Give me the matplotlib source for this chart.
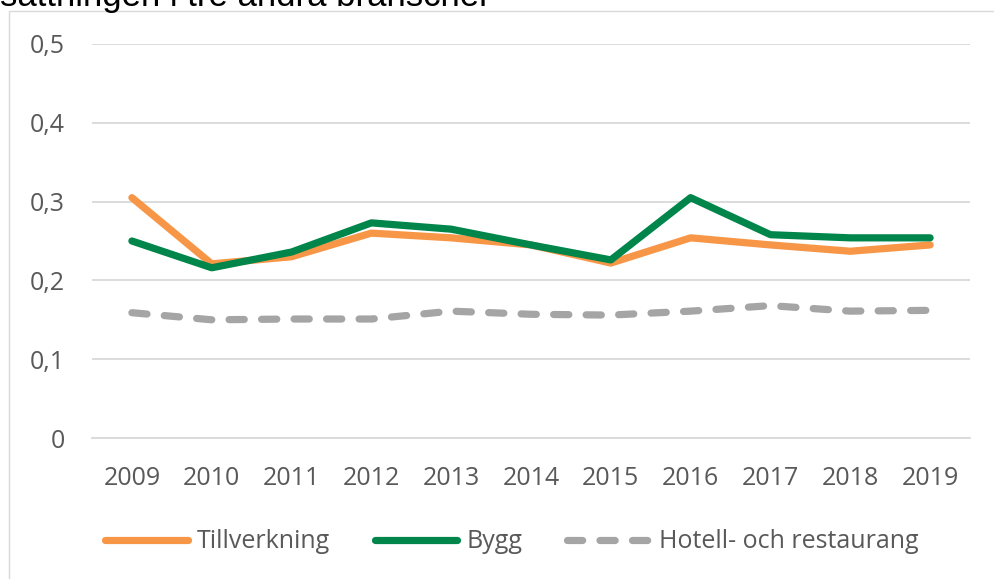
import matplotlib
matplotlib.use("Agg")
import matplotlib.pyplot as plt
from matplotlib.patches import Rectangle

years = ["2009", "2010", "2011", "2012", "2013", "2014", "2015", "2016", "2017", "2018", "2019"]
tillverkning = [0.305, 0.221, 0.230, 0.260, 0.254, 0.245, 0.222, 0.254, 0.245, 0.237, 0.245]
bygg = [0.250, 0.216, 0.236, 0.273, 0.265, 0.245, 0.226, 0.305, 0.258, 0.254, 0.254]
hotell = [0.159, 0.150, 0.151, 0.151, 0.161, 0.157, 0.156, 0.161, 0.168, 0.161, 0.162]
yticks = [0, 0.1, 0.2, 0.3, 0.4, 0.5]
ytick_labels = ["0", "0,1", "0,2", "0,3", "0,4", "0,5"]
title_text = "sättningen i tre andra branscher"

plt.rcParams['font.family'] = ['Open Sans', 'DejaVu Sans']

W, H = 994, 579
fig = plt.figure(figsize=(W / 100, H / 100), dpi=100)

# outer frame
fig.patches.append(Rectangle((9 / W, -0.1), 1.2, 1 - 11 / H + 0.1, transform=fig.transFigure,
                             fill=False, edgecolor='#D9D9D9', linewidth=1.0))

fig.text(0.0, 1 - 6 / H, title_text, fontsize=25, color='black', ha='left', va='baseline',
         family=['Liberation Sans', 'DejaVu Sans'])

ax = fig.add_axes([92 / W, 141 / H, (970 - 92) / W, (438 - 44) / H])
x = list(range(len(years)))
ax.plot(x, tillverkning, color='#F79646', linewidth=5.2, solid_capstyle='round', solid_joinstyle='round',
        label='Tillverkning', zorder=3)
ax.plot(x, bygg, color='#00854A', linewidth=5.2, solid_capstyle='round', solid_joinstyle='round',
        label='Bygg', zorder=4)
ax.plot(x, hotell, color='#A5A5A5', linewidth=5.2, dash_capstyle='round', dashes=(2.1, 2.4),
        label='Hotell- och restaurang', zorder=3)

ax.set_xlim(-0.5, len(years) - 0.5)
ax.set_ylim(0, 0.5)
ax.set_yticks(yticks)
ax.set_yticklabels(ytick_labels)
ax.set_xticks(x)
ax.set_xticklabels(years)
ax.grid(axis='y', color='#D9D9D9', linewidth=1.3)
ax.set_axisbelow(True)
for s in ['top', 'right', 'left']:
    ax.spines[s].set_visible(False)
ax.spines['bottom'].set_color('#D9D9D9')
ax.spines['bottom'].set_linewidth(1.3)
ax.tick_params(axis='both', length=0, labelsize=18, labelcolor='#595959')
ax.tick_params(axis='x', pad=20)
ax.tick_params(axis='y', pad=19.5)

leg = fig.legend(loc='center', bbox_to_anchor=(0.515, 1 - 542 / H), ncol=3, frameon=False,
                 fontsize=18, handlelength=3.3, columnspacing=1.8, handletextpad=0.36)
for t in leg.get_texts():
    t.set_color('#595959')

fig.savefig('out.png', dpi=100)
